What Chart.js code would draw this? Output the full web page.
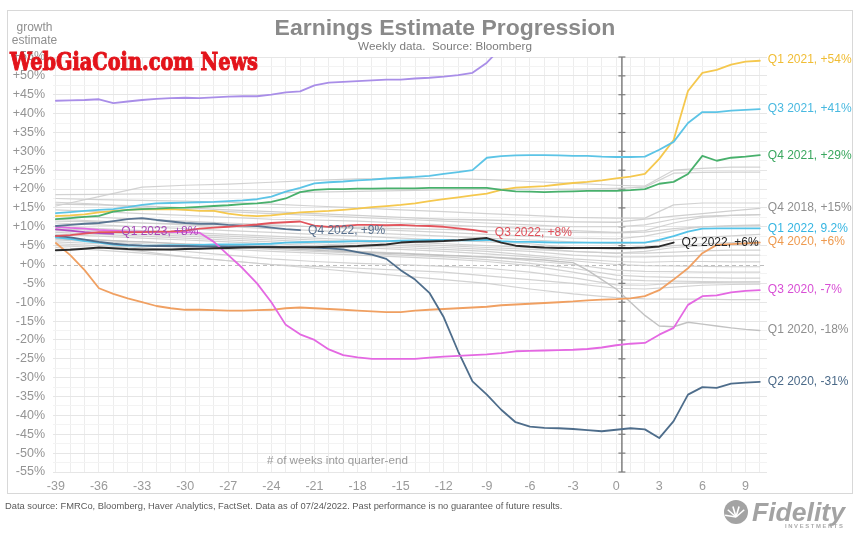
<!DOCTYPE html>
<html><head><meta charset="utf-8">
<script src="https://cdn.jsdelivr.net/npm/chart.js@4.4.1/dist/chart.umd.min.js"></script>
<style>html,body{margin:0;padding:0;background:#fff;}#wrap{width:860px;height:537px;}</style>
</head><body><div id="wrap"><canvas id="c" width="860" height="537"></canvas></div>
<script>
// ---------- DATA ----------
const weeks = [-39,-38,-37,-36,-35,-34,-33,-32,-31,-30,-29,-28,-27,-26,-25,-24,-23,-22,-21,-20,-19,-18,-17,-16,-15,-14,-13,-12,-11,-10,-9,-8,-7,-6,-5,-4,-3,-2,-1,0,1,2,3,4,5,6,7,8,9,10];
const xTicks = [-39,-36,-33,-30,-27,-24,-21,-18,-15,-12,-9,-6,-3,0,3,6,9];
const yTicks = [-55,-50,-45,-40,-35,-30,-25,-20,-15,-10,-5,0,5,10,15,20,25,30,35,40,45,50,55];
const QUARTER_END = 0.4;

const q2_2021 = [43.4,43.5,43.6,43.8,42.8,43.2,43.6,43.9,44.1,44.2,44.1,44.3,44.5,44.6,44.6,45,45.6,45.9,47.5,48.2,48.4,48.6,48.8,49,49,49.3,49.5,49.8,50.2,50.8,53.5,57.5,62];
const q1_2021 = [12.8,13,13.3,13.8,14.2,14.5,14.7,14.6,14.7,14.5,14.2,14.2,13.5,13,12.8,13,13.4,13.8,14,14.2,14.5,14.8,15.2,15.5,15.8,16.2,16.8,17.3,17.8,18.3,18.8,19.8,20.4,20.6,20.8,21.2,21.6,21.9,22.3,22.8,23.3,24,28,33,46,50.8,51.6,53,53.8,54];
const q3_2021 = [13.6,13.9,14.2,14.5,14.7,15.2,15.8,16.2,16.3,16.4,16.5,16.6,16.8,17,17.3,18,19.3,20.3,21.5,21.8,22,22.3,22.5,22.8,23,23.2,23.5,24,24.5,25,28.3,28.7,28.9,29,29,28.9,28.8,28.8,28.6,28.5,28.5,28.6,30.4,32.5,37.5,40.4,40.4,40.8,41,41.2];
const q4_2021 = [12,12.3,12.6,12.9,14,14.5,14.7,14.8,15,15.1,15.3,15.5,15.7,16,16.2,16.6,17.5,19.2,19.8,20,20,20.1,20.1,20.2,20.2,20.2,20.3,20.3,20.3,20.3,20.3,19.8,19.4,19.3,19.2,19.3,19.4,19.5,19.5,19.5,19.7,20,21.4,21.9,24,28.8,27.5,28.3,28.6,29];
const q1_2022 = [7.2,6.8,6.2,5.8,5.3,5,5,5,5.1,5.1,5.2,5.3,5.3,5.3,5.4,5.5,5.8,5.9,6,6,6.1,6.2,6.2,6.2,6.3,6.4,6.5,6.5,6.4,6.4,6.5,6.2,6,6,5.9,5.8,5.8,5.8,5.8,5.8,5.8,5.8,6.5,7.5,8.7,9.5,9.6,9.6,9.6,9.6];
const q4_2020 = [5.7,2.5,-1.5,-6.3,-7.8,-9,-10,-11,-11.6,-12,-12,-12.1,-12.2,-12.2,-12.1,-12,-11.6,-11.4,-11.6,-11.8,-12,-12.2,-12.4,-12.6,-12.6,-12.2,-12,-11.8,-11.6,-11.4,-11.2,-10.8,-10.6,-10.4,-10.2,-10,-9.8,-9.5,-9.3,-9.2,-9,-8.4,-6.8,-4,-1,3,5.2,5.4,5.6,5.8];
const q3_2020 = [10,9.7,9.5,9.2,9,8.8,8.7,8.6,8.6,8.6,8.4,6,2.5,-1,-5,-10,-16,-18.5,-20,-22.5,-24,-24.6,-25,-25,-25,-25,-24.7,-24.4,-24.2,-24,-23.8,-23.5,-23,-22.9,-22.8,-22.7,-22.6,-22.4,-22,-21.4,-21,-20.8,-18.6,-16.8,-10.7,-8.4,-8.2,-7.4,-7,-6.8];
const q2_2020 = [7.6,7.2,6.6,6,5.5,5.2,5,4.9,4.9,4.9,4.8,4.8,4.7,4.7,4.7,4.7,4.6,4.6,4.5,4.3,4,3.3,2.6,1.5,-1.5,-4,-7.5,-14,-23,-31,-34.5,-38.5,-41.8,-43,-43.3,-43.4,-43.6,-43.9,-44.2,-43.8,-43.4,-43.7,-46,-41.5,-34.5,-32.5,-32.7,-31.6,-31.3,-31.1];
const q3_2022 = [7.5,7.8,8.2,8.6,8.6,8.6,8.6,8.7,8.8,9,9.5,9.8,10,10.3,10.6,11,11.2,11.4,10.3,10,10.2,10.5,10.5,10.4,10.5,10.3,10.2,10,9.6,9.2,8.6];
const q2_2022 = [3.8,3.9,4.2,4.5,4.3,4.1,4,4,4,4.1,4.2,4.3,4.4,4.5,4.6,4.6,4.6,4.6,4.6,4.7,4.8,4.9,5.1,5.3,5.8,6,6.1,6.2,6.4,6.7,7,5.8,5,4.7,4.5,4.4,4.4,4.4,4.4,4.4,4.4,4.5,4.8,5.8];
const q4_2022 = [10.2,10.5,10.8,11,11.5,12,12.3,11.8,11.4,11,10.8,10.8,10.5,10.3,10.2,9.8,9.4,9.1];
const q1_2023 = [9.3,9,8.6,8.3,8.1];
const q1_2020 = [6.8,6.7,6.6,6.5,6.3,6.1,6,5.8,5.6,5.4,5.3,5.1,5,4.8,4.6,4.4,4.2,4,3.8,3.6,3.5,3.3,3.2,3,2.9,2.7,2.6,2.4,2.3,2.1,2,1.8,1.6,1.4,1.2,0.8,0.5,-1.5,-4,-6.5,-10,-13.5,-16.3,-16.5,-15.3,-15.8,-16.3,-16.8,-17.2,-17.5];

const grayWeeks = [-39,-36,-33,-30,-27,-24,-21,-18,-15,-12,-9,-6,-3,0,2,4,6,8,10];
const q4_2018 = [16,15.8,15.5,15,14.5,14,13.5,13,12.5,12,11.8,11.5,11.3,11.2,12,12.8,13.5,14.2,14.9];
const g01 = [18.5,18.6,18.7,18.8,18.9,19,19.2,19.4,19.6,19.8,20,20,20,20.2,20.5,24.2,24.4,24.5,24.5];
const g02 = [15.5,18,20.5,21,21.3,21.8,22.3,22.7,22.8,22.8,22.5,22,21.5,21,20.8,25,25.5,25.8,25.8];
const g03 = [17.5,17.2,17,16.8,16.5,16,15.5,15,14.5,14,13.5,13,12.5,12.3,12.3,15.8,16.3,16.3,16.3];
const g05 = [14.5,14,13.5,13,12.5,12,11.8,11.5,11,10.5,10,9.5,9,8.5,9,11,12.5,13,13.2];
const g06 = [13,12.5,12,11.5,11,10.5,10,9.5,9,8.5,8,7.5,7,6.8,7.5,9,10,10.3,10.5];
const g07 = [12,11.5,11,10.5,10,9.5,9,8.5,8,7.5,7,6.5,6,5.5,5.8,6.5,7.2,7.6,8];
const g08 = [11,10.5,10,9.5,9,8.5,8,7.5,7,6.5,6,5.5,4.5,4,4.2,5,5.5,5.8,6];
const g09 = [10,9.5,9,8.5,8,7.5,7,6.5,6,5.5,5,4.5,3.5,3,3,3.3,3.6,3.8,3.8];
const g10 = [9,8.5,8,7.5,7,6.5,6,5.5,5,4.5,4,3.5,2.5,2,2,2.2,2.4,2.5,2.5];
const g11 = [8.5,8,7.5,7,6.5,6,5.5,5,4.5,4,3.5,2.5,1.5,0.8,0.6,0.8,0.8,0.7,0.7];
const g12 = [8,7.5,7,6.5,6,5.5,5,4.5,4,3.5,2.8,2,1,0,-0.3,-0.4,-0.5,-0.6,-0.6];
const g13 = [7,6.5,6,5.5,5,4.5,4,3.5,3,2.5,2,1,0,-1.5,-1.8,-1.9,-2,-2,-2];
const g14 = [6.5,6,5.5,5,4.5,4,3.5,3,2.5,2,1.3,0.3,-1,-2.8,-3.2,-3.4,-3.5,-3.6,-3.6];
const g15 = [6,5.5,5,4.5,4,3.5,3,2.5,2,1.5,0.8,-0.3,-2,-4,-4.3,-4.4,-4.5,-4.6,-4.6];
const g16 = [5.5,5,4.5,3.5,2.5,1.5,0.8,0.3,0,-0.5,-1,-2,-3.5,-5.4,-5.5,-5,-4.8,-4.7,-4.6];
const g17 = [5,4.5,3.5,2,1,0,-0.5,-1,-1.5,-2,-3,-4,-5,-6.3,-6.5,-6,-5.5,-5.3,-5.2];
const g18 = [9.5,9,8.5,8,7.5,7,6.5,6,5.5,5,4.5,4,3.5,3,3.5,4.5,5,5.2,5.3];
const g19 = [11.5,11.3,11,10.8,10.5,10.3,10,9.8,9.5,9.3,9,8.8,8.5,8.4,8.6,9.5,10,10.2,10.3];
const g20 = [16.5,16,15,14.5,14,13.5,13,12.5,12,11.5,11,10.5,10,10,10.5,12,12.8,13,13.2];
const g21 = [4.5,3.8,3,2,1,0,-1,-2,-3,-4,-5,-6.5,-7.8,-8.8,-9.1,-9.2,-9.2,-9.3,-9.3];

// ---------- SERIES TABLE (built from the arrays) ----------
const FONT = '"Liberation Sans", Arial, sans-serif';
function pts(ws, vals){ return vals.map((v,i)=>({x:ws[i], y:v})); }
const grayLines = [g01,g02,g03,g05,g06,g07,g08,g09,g10,g11,g12,g13,g14,g15,g16,g17,g18,g19,g20,g21];
const colored = [
  {ws:weeks, v:q2_2022, c:'#2b2b2b', w:2,   label:'Q2 2022, +6%',  lc:'#222222', ly:5.7},
  {ws:weeks, v:q3_2022, c:'#e2545c', w:1.8, label:'Q3 2022, +8%',  lc:'#e0505a', ly:8.4},
  {ws:weeks, v:q4_2022, c:'#5a7592', w:1.8, label:'Q4 2022, +9%',  lc:'#58708e', ly:8.9},
  {ws:weeks, v:q1_2023, c:'#b14cc2', w:1.8, label:'Q1 2023, +8%',  lc:'#a747b8', ly:8.6},
  {ws:weeks, v:q3_2020, c:'#e468e2', w:1.8, label:'Q3 2020, -7%',  lc:'#d84fd5', ly:-6.8},
  {ws:weeks, v:q2_2020, c:'#4e6d8b', w:1.8, label:'Q2 2020, -31%', lc:'#4a6988', ly:-31},
  {ws:weeks, v:q4_2020, c:'#f0a062', w:1.8, label:'Q4 2020, +6%',  lc:'#ee9a4f', ly:6},
  {ws:weeks, v:q1_2022, c:'#55c3e8', w:1.8, label:'Q1 2022, 9.2%', lc:'#35b5e2', ly:9.4},
  {ws:weeks, v:q4_2021, c:'#48b06c', w:1.8, label:'Q4 2021, +29%', lc:'#3aa75f', ly:28.8},
  {ws:weeks, v:q3_2021, c:'#5cc4e6', w:1.8, label:'Q3 2021, +41%', lc:'#49b9e0', ly:41.2},
  {ws:weeks, v:q1_2021, c:'#f5c84e', w:1.8, label:'Q1 2021, +54%', lc:'#f0bd35', ly:54.2},
  {ws:weeks, v:q2_2021, c:'#a98ee8', w:1.8, label:null},
  {ws:weeks, v:q1_2020, c:'#c2c2c2', w:1.4, label:'Q1 2020, -18%', lc:'#8f8f8f', ly:-17.4},
  {ws:grayWeeks, v:q4_2018, c:'#cfcfcf', w:1.3, label:'Q4 2018, +15%', lc:'#8f8f8f', ly:15}
];
const datasets = colored.map(s=>({data:pts(s.ws,s.v), borderColor:s.c, borderWidth:s.w, pointRadius:0, fill:false}))
  .concat(grayLines.map(g=>({data:pts(grayWeeks,g), borderColor:'rgba(205,205,205,0.9)', borderWidth:1.2, pointRadius:0, fill:false})));

const yGrid = []; for(let v=-55; v<=55; v+=2.5) yGrid.push(v);

function fitFont(c, text, width, size, weight, style){
  c.font = `${style||''} ${weight} ${size}px ${FONT}`;
  const m = c.measureText(text).width;
  const s = size*width/m;
  c.font = `${style||''} ${weight} ${s}px ${FONT}`;
}

const deco = {
  id:'deco',
  beforeDraw(chart){
    const c = chart.ctx; c.save(); c.fillStyle='#fff'; c.fillRect(0,0,chart.width,chart.height);
    c.strokeStyle='#d8d8d8'; c.lineWidth=1; c.strokeRect(7.5,10.5,845,483); c.restore();
  },
  beforeDatasetsDraw(chart){
    const c=chart.ctx, xs=chart.scales.x, ys=chart.scales.y, a=chart.chartArea;
    c.save();
    const y0 = Math.round(ys.getPixelForValue(0))+0.5;
    c.strokeStyle='#bdbdbd'; c.lineWidth=1; c.setLineDash([4,3]);
    c.beginPath(); c.moveTo(a.left,y0); c.lineTo(a.right,y0); c.stroke();
    c.setLineDash([]);
    const xq = xs.getPixelForValue(QUARTER_END);
    c.strokeStyle='#7d7d7d'; c.lineWidth=1.5;
    c.beginPath(); c.moveTo(xq,a.top); c.lineTo(xq,a.bottom); c.stroke();
    c.lineWidth=1.2;
    yTicks.forEach(v=>{ const yy=ys.getPixelForValue(v); c.beginPath(); c.moveTo(xq-3.5,yy); c.lineTo(xq+3.5,yy); c.stroke(); });
    c.restore();
  },
  afterDraw(chart){
    const c=chart.ctx, xs=chart.scales.x, ys=chart.scales.y;
    c.save();
    // series labels
    c.textBaseline='middle'; c.textAlign='left';
    c.font = `12px ${FONT}`;
    colored.forEach(s=>{
      if(!s.label) return;
      const lastX = s.ws[s.v.length-1];
      c.fillStyle = s.lc;
      c.fillText(s.label, xs.getPixelForValue(lastX)+8, ys.getPixelForValue(s.ly));
    });
    // title
    c.textAlign='center'; c.textBaseline='alphabetic';
    c.fillStyle='#8a8a8a'; fitFont(c,'Earnings Estimate Progression',341,20,'bold');
    c.fillText('Earnings Estimate Progression',445,35);
    c.fillStyle='#7c7c7c'; fitFont(c,'Weekly data.  Source: Bloomberg',174,10.5,'normal');
    c.fillText('Weekly data.  Source: Bloomberg',445,50);
    // y axis title
    c.fillStyle='#8f8f8f'; c.font=`12px ${FONT}`; c.textBaseline='middle';
    c.fillText('growth',34.5,27.5); c.fillText('estimate',34.5,41);
    // x axis title
    c.textAlign='left'; c.fillStyle='#9a9a9a';
    fitFont(c,'# of weeks into quarter-end',141,12,'normal');
    c.fillText('# of weeks into quarter-end',267,461);
    // footer
    const foot='Data source: FMRCo, Bloomberg, Haver Analytics, FactSet. Data as of 07/24/2022. Past performance is no guarantee of future results.';
    c.fillStyle='#5a5a5a'; fitFont(c,foot,558,9.5,'normal');
    c.fillText(foot,5,506);
    // Fidelity logo
    c.fillStyle='#a3a3a3';
    c.beginPath(); c.arc(736,512,12,0,Math.PI*2); c.fill();
    c.strokeStyle='#fff'; c.lineWidth=1.6;
    for(let k=0;k<5;k++){ const an=Math.PI*(1.05+k*0.18); c.beginPath(); c.moveTo(736,517); c.lineTo(736+11*Math.cos(an),517+11*Math.sin(an)); c.stroke(); }
    c.fillStyle='#a3a3a3'; c.textBaseline='alphabetic';
    fitFont(c,'Fidelity',93,23,'bold','italic');
    c.fillText('Fidelity',752,521);
    c.fillStyle='#ababab';
    fitFont(c,'I N V E S T M E N T S',58,5.5,'bold');
    c.fillText('I N V E S T M E N T S',785,528);
    // watermark
    c.fillStyle='#e3141b'; c.strokeStyle='#e3141b'; c.lineWidth=1.1;
    c.textAlign='left'; c.textBaseline='alphabetic';
    c.font='bold 25px "DejaVu Serif", serif';
    c.fillText('WebGiaCoin.com News',10,70,248);
    c.strokeText('WebGiaCoin.com News',10,70,248);
    c.restore();
  }
};

new Chart(document.getElementById('c'), {
  type:'line',
  data:{datasets},
  options:{
    responsive:false, animation:false, devicePixelRatio:1,
    layout:{padding:{left:0,right:93,top:57,bottom:41}},
    plugins:{legend:{display:false}, tooltip:{enabled:false}},
    elements:{point:{radius:0}, line:{tension:0, borderJoinStyle:'round', borderCapStyle:'round'}},
    scales:{
      x:{type:'linear', min:-39.2, max:10.5,
        afterBuildTicks(s){ s.ticks = weeks.map(v=>({value:v})); },
        afterFit(s){ s.height = 24; },
        grid:{color:'#ededed', lineWidth:1, drawTicks:false},
        border:{display:false},
        ticks:{autoSkip:false, maxRotation:0, padding:7, color:'#9a9a9a', font:{size:12.5, family:FONT},
          callback:(v)=> xTicks.includes(v) ? String(v) : ''}
      },
      y:{type:'linear', min:-55, max:55,
        afterBuildTicks(s){ s.ticks = yGrid.map(v=>({value:v})); },
        afterFit(s){ s.width = 53; },
        grid:{drawTicks:false, lineWidth:1, color:(ctx)=>{ const v=ctx.tick?ctx.tick.value:null; if(v===0) return 'rgba(0,0,0,0)'; return (v%5===0)?'#e6e6e6':'#f3f3f3'; }},
        border:{display:false},
        ticks:{autoSkip:false, padding:8, color:'#949494', font:{size:12.5, family:FONT},
          callback:(v)=> yTicks.includes(v) ? ((v>=0?'+':'')+v+'%') : ''}
      }
    }
  },
  plugins:[deco]
});
</script></body></html>
